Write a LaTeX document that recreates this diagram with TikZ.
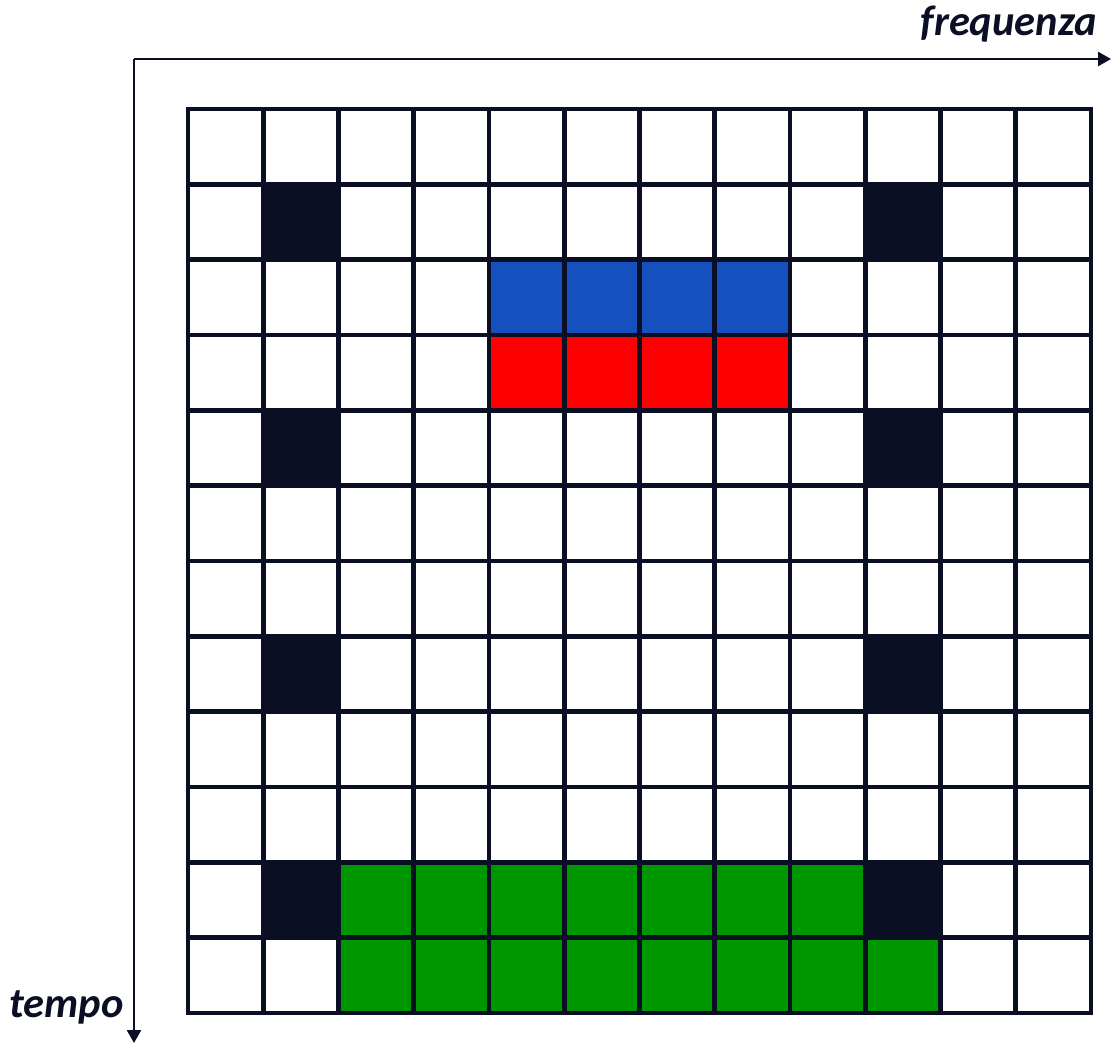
\documentclass[tikz,border=0pt]{standalone}
\usepackage{fontspec}
\setmainfont{Carlito}
\usetikzlibrary{arrows.meta}
\definecolor{navy}{RGB}{10,15,35}
\definecolor{cblue}{RGB}{20,80,190}
\definecolor{cred}{RGB}{255,0,0}
\definecolor{cgreen}{RGB}{0,150,0}
\tikzset{
  axisline/.style={draw=navy, line width=2.5pt, -{Triangle[length=13pt,width=14pt]}},
  gridline/.style={draw=navy, line width=4.8pt, line cap=rect},
  lbl/.style={inner sep=0pt, text=navy, font=\fontsize{42.5}{44}\selectfont\bfseries\itshape},
}
\newcommand{\cellfill}[3]{% #1 colour, #2 col, #3 row
  \fill[#1] ({188+75.25*#2},{109+75.33*#3}) rectangle ({188+75.25*(#2+1)},{109+75.33*(#3+1)});}
\begin{document}
\begin{tikzpicture}[x=1pt,y=-1pt]
\useasboundingbox (0,0) rectangle (1111,1044);
% coloured cells
\foreach \r in {1,4,7,10}{\cellfill{navy}{1}{\r}\cellfill{navy}{9}{\r}}
\foreach \c in {4,...,7}{\cellfill{cblue}{\c}{2}\cellfill{cred}{\c}{3}}
\foreach \c in {2,...,8}{\cellfill{cgreen}{\c}{10}}
\foreach \c in {2,...,9}{\cellfill{cgreen}{\c}{11}}
% grid
\foreach \i in {0,...,12}{
  \draw[gridline] ({188+75.25*\i},109) -- ({188+75.25*\i},1013);
  \draw[gridline] (188,{109+75.33*\i}) -- (1091,{109+75.33*\i});
}
% axes
\coordinate (O) at (134,59);
\coordinate (F) at (1111,59);
\coordinate (T) at (134,1043);
\draw[axisline] (O) -- (F);
\draw[axisline] (O) -- (T);
\node[lbl, anchor=base east] (freq) at (1097,35) {frequenza};
\node[lbl, anchor=base west] (tempo) at (9,1017) {tempo};
\end{tikzpicture}
\end{document}
